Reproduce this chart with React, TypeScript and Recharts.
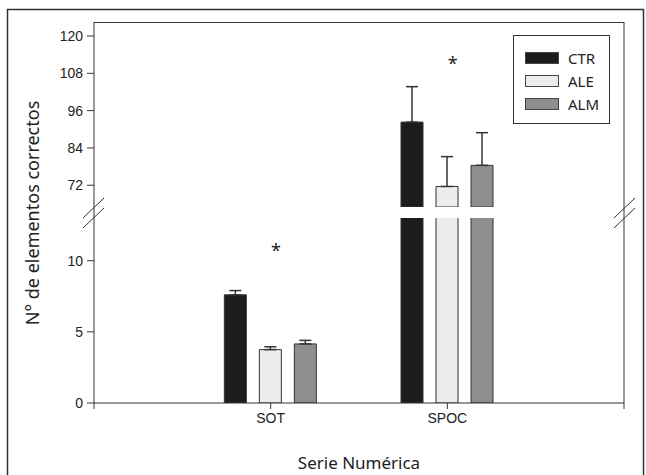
import React from 'react';
import {
  BarChart,
  Bar,
  XAxis,
  YAxis,
  ErrorBar,
  ReferenceDot,
} from 'recharts';

// series values
const CATEGORIES = ['SOT', 'SPOC'];
const CTR = [7.6, 92.3];
const ALE = [3.75, 71.6];
const ALM = [4.15, 78.4];
const CTR_ERR = [0.3, 11.4];
const ALE_ERR = [0.2, 9.6];
const ALM_ERR = [0.25, 10.5];

const UPPER_TICKS = [72, 84, 96, 108, 120];
const LOWER_TICKS = [0, 5, 10];
const X_TICKS = [0, 1, 2, 3];

// broken y axis: lower panel 0..13, upper panel 65..124.5
const LOWER_DOMAIN = [0, 13];
const UPPER_DOMAIN = [65, 124.5];

const SERIES = [
  { key: 'CTR', values: CTR, errors: CTR_ERR, fill: '#1c1c1c' },
  { key: 'ALE', values: ALE, errors: ALE_ERR, fill: '#ececec' },
  { key: 'ALM', values: ALM, errors: ALM_ERR, fill: '#8e8e8e' },
];

const AXIS = '#333';
const TICK_FONT = { fontFamily: 'Liberation Sans, Arial, sans-serif', fontSize: 14, fill: '#222' };
const LABEL_FONT = 'Noto Sans, DejaVu Sans, sans-serif';

function buildRows(minValue: number) {
  return CATEGORIES.map((name, i) => {
    const row: Record<string, any> = { pos: i + 1, name };
    SERIES.forEach((s) => {
      const v = s.values[i];
      row[s.key] = v > minValue ? v : null;
      row[s.key + 'Err'] = [0, s.errors[i]];
    });
    return row;
  });
}

const upperRows = buildRows(UPPER_DOMAIN[0]);
const lowerRows = buildRows(-Infinity);

function LegendBox() {
  return (
    <div
      style={{
        position: 'absolute',
        left: 513,
        top: 35,
        width: 97,
        height: 89,
        border: '1px solid #333',
        background: '#fff',
        fontFamily: LABEL_FONT,
        fontSize: 15,
        color: '#222',
        boxSizing: 'border-box',
        paddingTop: 10,
      }}
    >
      {SERIES.map((s) => (
        <div key={s.key} style={{ display: 'flex', alignItems: 'center', height: 23, paddingLeft: 11 }}>
          <span
            style={{
              display: 'inline-block',
              width: 32,
              height: 10,
              background: s.fill,
              border: '1px solid #444',
              marginRight: 9,
            }}
          />
          <span>{s.key}</span>
        </div>
      ))}
    </div>
  );
}

function bars() {
  return SERIES.map((s) => (
    <Bar
      key={s.key}
      dataKey={s.key}
      fill={s.fill}
      stroke="#333"
      strokeWidth={1}
      barSize={22}
      isAnimationActive={false}
    >
      <ErrorBar dataKey={s.key + 'Err'} width={6} stroke="#333" strokeWidth={1.5} direction="y" />
    </Bar>
  ));
}

export default function App() {
  return (
    <div style={{ position: 'absolute', left: 0, top: 0, width: 646, height: 475, background: '#fff' }}>
      {/* lower panel */}
      <div style={{ position: 'absolute', left: 0, top: 0 }}>
        <BarChart width={646} height={475} data={lowerRows} margin={{ top: 218, right: 0, bottom: 0, left: 0 }} barGap={13}>
          <XAxis
            dataKey="pos"
            type="number"
            domain={[0, 3]}
            ticks={X_TICKS}
            tickFormatter={(v: number) => CATEGORIES[v - 1] ?? ''}
            stroke={AXIS}
            tickSize={6}
            tickMargin={4}
            tick={TICK_FONT}
            height={72}
            label={{
              value: 'Serie Numérica',
              position: 'insideBottom',
              offset: 6,
              style: { fontFamily: LABEL_FONT, fontSize: 17, fill: '#222' },
            }}
          />
          <YAxis
            domain={LOWER_DOMAIN}
            ticks={LOWER_TICKS}
            allowDataOverflow
            width={94}
            stroke={AXIS}
            tickSize={7}
            tickMargin={4}
            tick={TICK_FONT}
          />
          <YAxis yAxisId="right" orientation="right" width={22} tick={false} tickLine={false} stroke={AXIS} domain={LOWER_DOMAIN} />
          {bars()}
          <ReferenceDot
            x={1.03}
            y={10.7}
            r={0}
            fill="none"
            stroke="none"
            label={{ value: '*', position: 'center', style: { fontSize: 18, fill: '#222', fontFamily: LABEL_FONT } }}
          />
        </BarChart>
      </div>

      {/* upper panel */}
      <div style={{ position: 'absolute', left: 0, top: 0 }}>
        <BarChart width={646} height={207} data={upperRows} margin={{ top: 22, right: 0, bottom: 0, left: 0 }} barGap={13}>
          <XAxis dataKey="pos" type="number" domain={[0, 3]} ticks={X_TICKS} hide />
          <YAxis
            domain={UPPER_DOMAIN}
            ticks={UPPER_TICKS}
            allowDataOverflow
            width={94}
            stroke={AXIS}
            tickSize={7}
            tickMargin={4}
            tick={TICK_FONT}
          />
          <YAxis yAxisId="right" orientation="right" width={22} tick={false} tickLine={false} stroke={AXIS} domain={UPPER_DOMAIN} />
          {bars()}
          <ReferenceDot
            x={2.03}
            y={111}
            r={0}
            fill="none"
            stroke="none"
            label={{ value: '*', position: 'center', style: { fontSize: 18, fill: '#222', fontFamily: LABEL_FONT } }}
          />
        </BarChart>
      </div>

      <LegendBox />

      {/* frame, axis break marks and y title */}
      <svg width={646} height={475} style={{ position: 'absolute', left: 0, top: 0, pointerEvents: 'none' }}>
        <rect x={7.5} y={9.5} width={636} height={480} fill="none" stroke="#333" strokeWidth={1.5} />
        <line x1={94} y1={22.5} x2={624} y2={22.5} stroke={AXIS} />
        <line x1={94} y1={207} x2={94} y2={218} stroke={AXIS} />
        <line x1={624} y1={207} x2={624} y2={218} stroke={AXIS} />
        <line x1={83} y1={218} x2={104} y2={198} stroke={AXIS} />
        <line x1={83} y1={228} x2={104} y2={208} stroke={AXIS} />
        <line x1={614} y1={218} x2={635} y2={198} stroke={AXIS} />
        <line x1={614} y1={228} x2={635} y2={208} stroke={AXIS} />
        <text
          x={32}
          y={213}
          transform="rotate(-90 32 213)"
          textAnchor="middle"
          dominantBaseline="central"
          style={{ fontFamily: LABEL_FONT, fontSize: 18, fill: '#222' }}
        >
          N° de elementos correctos
        </text>
      </svg>
    </div>
  );
}
